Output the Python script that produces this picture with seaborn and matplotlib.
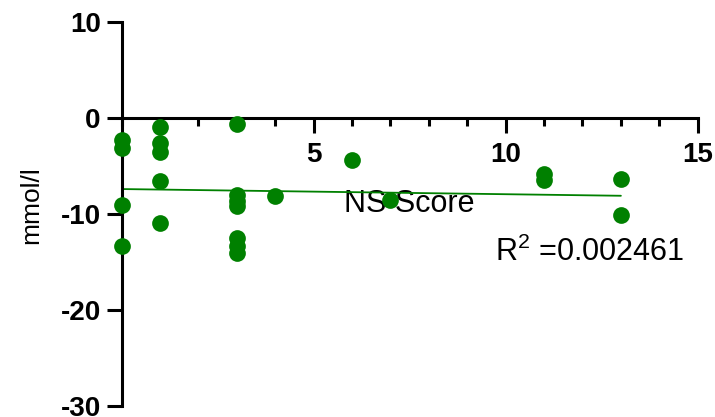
import matplotlib
matplotlib.use("Agg")
import matplotlib.pyplot as plt
import seaborn as sns
import pandas as pd
from matplotlib.ticker import MultipleLocator

# ---- data ----
ns_score = [0, 0, 0, 0,
            1, 1, 1, 1, 1,
            3, 3, 3, 3, 3, 3, 3,
            4, 6, 7, 11, 11, 13, 13]
mmol = [-2.3, -3.1, -9.1, -13.3,
        -0.9, -2.6, -3.5, -6.6, -10.9,
        -0.6, -8.0, -8.6, -9.2, -12.5, -13.3, -14.1,
        -8.1, -4.4, -8.5, -5.8, -6.5, -6.4, -10.1]
fit_x = [0, 13]
fit_y = [-7.4, -8.1]
x_ticks = [5, 10, 15]
y_ticks = [-30, -20, -10, 0, 10]
r2_text = r"R$^{\mathrm{2}}$ =0.002461"

df = pd.DataFrame({"NS Score": ns_score, "mmol/l": mmol})
fit = pd.DataFrame({"x": fit_x, "y": fit_y})

sns.set_style("ticks")
plt.rcParams["font.family"] = ["Liberation Sans", "DejaVu Sans"]
plt.rcParams["mathtext.fontset"] = "custom"
plt.rcParams["mathtext.rm"] = "Liberation Sans"
plt.rcParams["mathtext.it"] = "Liberation Sans:italic"
plt.rcParams["mathtext.bf"] = "Liberation Sans:bold"
plt.rcParams["text.color"] = "black"
plt.rcParams["axes.labelcolor"] = "black"
plt.rcParams["axes.edgecolor"] = "black"
plt.rcParams["xtick.color"] = "black"
plt.rcParams["ytick.color"] = "black"

fig = plt.figure(figsize=(7.15, 4.17), dpi=100)
ax = fig.add_axes([0.1702, 0.0264, 0.8056, 0.9208])

sns.lineplot(data=fit, x="x", y="y", color="#008000", linewidth=1.3, ax=ax)
sns.scatterplot(data=df, x="NS Score", y="mmol/l", color="#008000", s=145,
                linewidth=0, clip_on=False, zorder=3, ax=ax)

ax.set_xlim(0, 15)
ax.set_ylim(-30, 10)

for s in ["top", "right"]:
    ax.spines[s].set_visible(False)
ax.spines["bottom"].set_position(("data", 0))
ax.spines["left"].set_linewidth(2.2)
ax.spines["bottom"].set_linewidth(2.2)
ax.spines["left"].set_color("black")
ax.spines["bottom"].set_color("black")

ax.set_xticks(x_ticks)
ax.set_xticklabels([str(t) for t in x_ticks])
ax.xaxis.set_minor_locator(MultipleLocator(1))
ax.set_yticks(y_ticks)
ax.set_yticklabels([str(t) for t in y_ticks])

ax.tick_params(axis="x", which="major", direction="out", length=11, width=2.2,
               pad=6, labelsize=20, colors="black")
ax.tick_params(axis="x", which="minor", direction="out", length=6, width=2.2,
               colors="black")
ax.tick_params(axis="y", which="major", direction="out", length=11, width=2.2,
               pad=4, labelsize=20, colors="black")
for lab in ax.get_xticklabels() + ax.get_yticklabels():
    lab.set_fontweight("bold")

ax.set_xlabel("NS Score", fontsize=22, color="black")
ax.xaxis.set_label_coords(0.5, 0.506)
ax.xaxis.label.set_va("baseline")

ax.set_ylabel("mmol/l", fontsize=19, color="black")
ax.yaxis.set_label_coords(-0.1575, 0.523)
ax.yaxis.label.set_va("center")

ax.text(9.72, -14.94, r2_text, fontsize=22, ha="left", va="baseline",
        color="black")

fig.savefig("out.png", dpi=100)
